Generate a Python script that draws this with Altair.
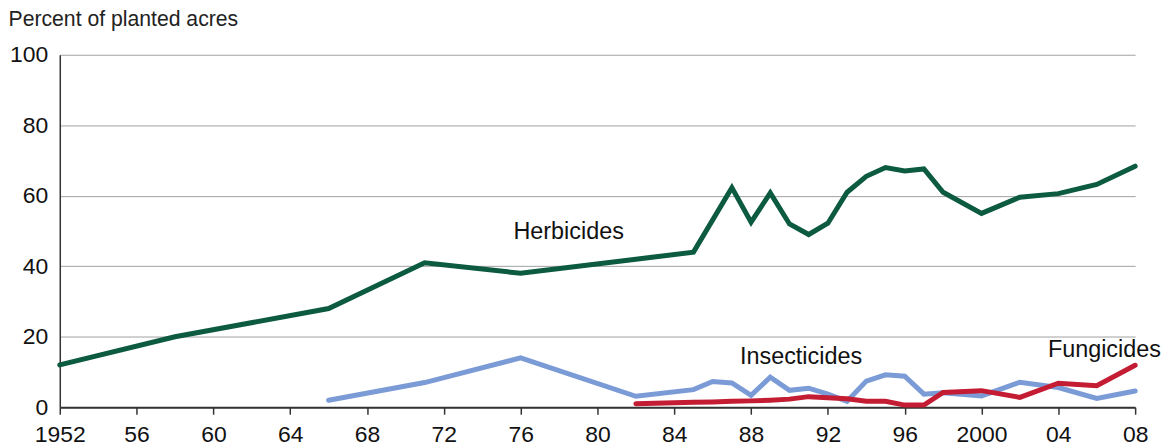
import altair as alt
import pandas as pd

# ---- data ----
herb_years = [1952, 1958, 1966, 1971, 1976, 1982, 1985, 1987, 1988, 1989, 1990, 1991,
              1992, 1993, 1994, 1995, 1996, 1997, 1998, 2000, 2002, 2004, 2006, 2008]
herb_vals = [12, 20, 28, 41, 38, 42, 44, 62.3, 52.5, 60.8, 52, 49, 52.2, 61, 65.5, 68, 67,
             67.6, 61, 55, 59.6, 60.6, 63.2, 68.4]

ins_years = [1966, 1971, 1976, 1982, 1985, 1986, 1987, 1988, 1989, 1990, 1991, 1992,
             1993, 1994, 1995, 1996, 1997, 1998, 2000, 2002, 2004, 2006, 2008]
ins_vals = [2, 7, 14, 3.1, 5, 7.3, 6.9, 3.4, 8.5, 4.8, 5.4, 3.7, 1.7, 7.4, 9.2, 8.8,
            3.7, 4.1, 3.2, 7.1, 5.6, 2.5, 4.6]

fung_years = [1982, 1985, 1986, 1987, 1988, 1989, 1990, 1991, 1992, 1993, 1994, 1995,
              1996, 1997, 1998, 2000, 2002, 2004, 2006, 2008]
fung_vals = [1, 1.4, 1.5, 1.7, 1.8, 2, 2.3, 3, 2.7, 2.4, 1.7, 1.7, 0.6, 0.6, 4.2, 4.7,
             2.8, 6.8, 6.1, 11.9]

series = ["Herbicides", "Insecticides", "Fungicides"]
colors = ["#0c5a40", "#7b9bd6", "#c41c33"]

label_years = [1978.5, 1990.6, 2006.4]
label_vals = [49.7, 14.1, 16.1]

y_ticks = [0, 20, 40, 60, 80, 100]
x_label_years = list(range(1952, 2009, 4))
x_label_text = ["1952", "56", "60", "64", "68", "72", "76", "80", "84", "88", "92",
                "96", "2000", "04", "08"]
y_title = "Percent of planted acres"

# ---- build tables ----
rows = []
for name, yrs, vals in [("Herbicides", herb_years, herb_vals),
                        ("Insecticides", ins_years, ins_vals),
                        ("Fungicides", fung_years, fung_vals)]:
    for yr, v in zip(yrs, vals):
        rows.append({"year": yr, "value": v, "series": name})
df = pd.DataFrame(rows)
labels_df = pd.DataFrame({"year": label_years, "value": label_vals, "label": series})

label_map = dict(zip(x_label_years, x_label_text))
label_expr = "".join(f"datum.value == {k} ? '{v}' : " for k, v in label_map.items()) + "''"

FONT = "Liberation Sans"

x_enc = alt.X("year:Q",
              scale=alt.Scale(domain=[1952, 2008], nice=False, zero=False),
              axis=alt.Axis(values=list(range(1952, 2009)), labelExpr=label_expr,
                            title=None, grid=False, domainColor="#333333", domainWidth=2,
                            tickColor="#333333", tickWidth=1.5, tickSize=7,
                            labelFontSize=23, labelFont=FONT, labelColor="#111111",
                            labelPadding=9, labelOverlap=False, labelFlush=False))
y_enc = alt.Y("value:Q",
              scale=alt.Scale(domain=[0, 100], nice=False),
              axis=alt.Axis(values=y_ticks, title=y_title, titleAngle=0, titleAlign="left",
                            titleBaseline="alphabetic", titleX=-52, titleY=-29,
                            titleFont=FONT, titleFontSize=21.3, titleFontWeight="normal",
                            titleColor="#222222",
                            grid=True, gridColor="#a0a0a0", gridWidth=1,
                            domainColor="#333333", domainWidth=1.5, ticks=False,
                            labelFontSize=23, labelFont=FONT, labelColor="#111111",
                            labelPadding=12))

layers = []
for name, col in zip(series, colors):
    layers.append(
        alt.Chart(df).transform_filter(alt.datum.series == name)
        .mark_line(color=col, strokeWidth=5, strokeCap="round", strokeJoin="miter")
        .encode(x=x_enc, y=y_enc)
    )

text = alt.Chart(labels_df).mark_text(fontSize=23.5, font=FONT, color="#111111",
                                      align="center", baseline="middle").encode(
    x="year:Q", y="value:Q", text="label:N")

chart = alt.layer(*layers, text).properties(
    width=1080, height=354,
    autosize=alt.AutoSizeParams(type="none"),
    padding={"left": 52, "top": 46, "right": 32, "bottom": 40},
).configure_view(stroke=None)

chart.save("out.html", embed_options={"renderer": "svg", "actions": False})
